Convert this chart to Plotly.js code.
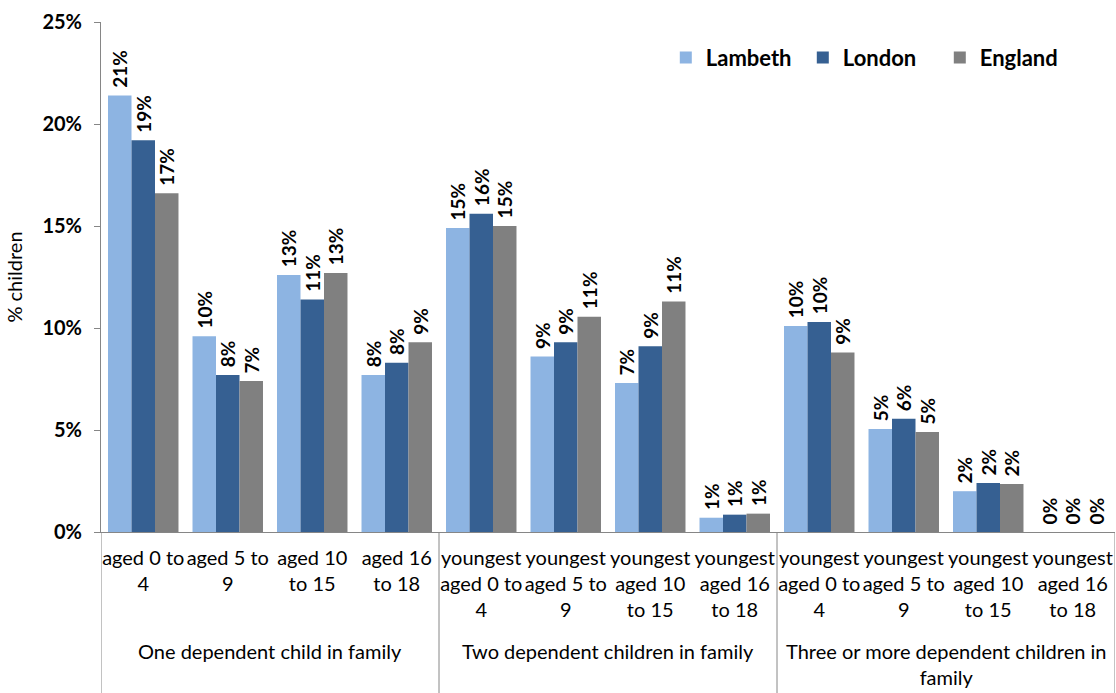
<!DOCTYPE html>
<html>
<head>
<meta charset="utf-8">
<script src="https://cdn.plot.ly/plotly-3.0.1.min.js"></script>
<style>html,body{margin:0;padding:0;background:#fff;}#chart{width:1116px;height:693px;}</style>
</head>
<body>
<div id="chart"></div>
<script>
// Category labels (first level) and group labels (second level)
var categories = [
  "aged 0 to<br>4", "aged 5 to<br>9", "aged 10<br>to 15", "aged 16<br>to 18",
  "youngest<br>aged 0 to<br>4", "youngest<br>aged 5 to<br>9", "youngest<br>aged 10<br>to 15", "youngest<br>aged 16<br>to 18",
  "youngest<br>aged 0 to<br>4", "youngest<br>aged 5 to<br>9", "youngest<br>aged 10<br>to 15", "youngest<br>aged 16<br>to 18"
];
var groups = [
  "One dependent child in family",
  "Two dependent children in family",
  "Three or more dependent children in<br>family"
];
var groupSize = 4;

// Series values (% children)
var lambeth = [21.4, 9.6, 12.6, 7.7, 14.9, 8.6, 7.3, 0.7, 10.1, 5.05, 2.0, 0];
var london  = [19.2, 7.7, 11.4, 8.3, 15.6, 9.3, 9.1, 0.85, 10.3, 5.55, 2.4, 0];
var england = [16.6, 7.4, 12.7, 9.3, 15.0, 10.55, 11.3, 0.9, 8.8, 4.9, 2.35, 0];

var seriesNames = ["Lambeth", "London", "England"];
var seriesValues = [lambeth, london, england];
var seriesColors = ["#8DB4E2", "#366092", "#808080"];

var FONT = "Lato, 'Open Sans', sans-serif";
var xIdx = categories.map(function (_, i) { return i; });

var traces = seriesValues.map(function (vals, k) {
  return {
    type: "bar",
    name: seriesNames[k],
    x: xIdx,
    y: vals,
    marker: { color: seriesColors[k], line: { width: 0 } },
    texttemplate: "\u00A0%{y:.0f}%",
    textposition: "outside",
    textangle: -90,
    constraintext: "none",
    cliponaxis: false,
    textfont: { family: FONT, size: 19, color: "#000", weight: "bold" },
    hoverinfo: "skip"
  };
});

var axisColor = "#868686";
var shapes = [];
var annotations = [];
var nGroups = groups.length;
for (var g = 0; g <= nGroups; g++) {
  shapes.push({
    type: "line", xref: "x", yref: "paper",
    x0: g * groupSize - 0.5, x1: g * groupSize - 0.5,
    y0: 0, y1: -0.33,
    line: { color: axisColor, width: 1 }
  });
}
groups.forEach(function (label, g) {
  annotations.push({
    text: label, xref: "x", yref: "paper",
    x: g * groupSize + (groupSize - 1) / 2, y: -0.205,
    xanchor: "center", yanchor: "top", showarrow: false,
    font: { family: FONT, size: 20, color: "#000" }
  });
});

var layout = {
  width: 1116, height: 693,
  margin: { l: 101, r: 1, t: 22, b: 161 },
  paper_bgcolor: "#fff", plot_bgcolor: "#fff",
  barmode: "group",
  bargap: 0.166, bargroupgap: 0,
  showlegend: true,
  legend: {
    orientation: "h", x: 0.557, y: 0.93, xanchor: "left", yanchor: "middle",
    entrywidth: 92, entrywidthmode: "pixels",
    font: { family: FONT, size: 22, color: "#000", weight: "bold" },
    bgcolor: "rgba(0,0,0,0)"
  },
  xaxis: {
    range: [-0.5, categories.length - 0.5],
    tickmode: "array", tickvals: xIdx, ticktext: categories,
    tickangle: 0,
    ticks: "", showline: true, linecolor: axisColor, linewidth: 1,
    showgrid: false, zeroline: false,
    ticklabelstandoff: 8,
    tickfont: { family: FONT, size: 20, color: "#000" },
    fixedrange: true
  },
  yaxis: {
    range: [0, 25], dtick: 5, ticksuffix: "%",
    ticks: "outside", ticklen: 6, tickcolor: axisColor,
    showline: true, linecolor: axisColor, linewidth: 1,
    showgrid: false, zeroline: false,
    ticklabelstandoff: 8,
    tickfont: { family: FONT, size: 20, color: "#000", weight: "bold" },
    title: { text: "% children", font: { family: FONT, size: 20, color: "#000" }, standoff: 14 },
    fixedrange: true
  },
  shapes: shapes,
  annotations: annotations
};

Plotly.newPlot("chart", traces, layout, { displayModeBar: false, staticPlot: true });
</script>
</body>
</html>
